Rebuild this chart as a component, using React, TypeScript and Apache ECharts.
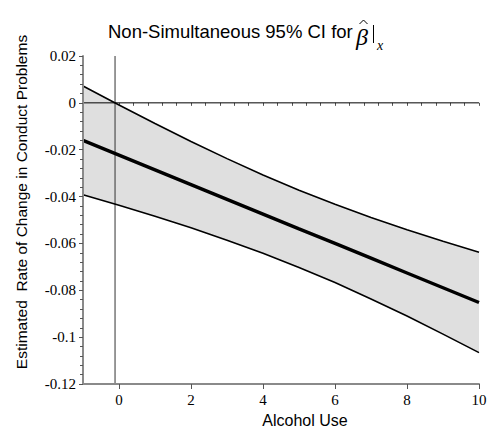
import React, { useEffect, useRef } from "react";
import * as echarts from "echarts";

// Alcohol Use values at which the curves were read
const X_VALUES = [-1, 0, 1, 2, 3, 4, 5, 6, 7, 8, 9, 10];
// Estimated simple slope (thick line)
const ESTIMATE = [-0.016, -0.0223, -0.0286, -0.0349, -0.0412, -0.0475, -0.0538, -0.06, -0.0663, -0.0726, -0.0789, -0.0852];
// Upper 95% bound
const UPPER = [0.0072, -0.0009, -0.0088, -0.0165, -0.0238, -0.0308, -0.0373, -0.0433, -0.0489, -0.0542, -0.0591, -0.0638];
// Lower 95% bound
const LOWER = [-0.0392, -0.0437, -0.0484, -0.0533, -0.0586, -0.0642, -0.0703, -0.0767, -0.0837, -0.091, -0.0987, -0.1066];

// Region-of-significance boundary (vertical line) and reference line
const BOUNDARY_X = -0.11;
const ZERO_Y = 0;

const X_MIN = -1;
const X_MAX = 10;
const Y_MIN = -0.12;
const Y_MAX = 0.02;
const Y_STEP = 0.02;
const X_LABEL_TICKS = [0, 2, 4, 6, 8, 10];
const X_MINOR_TICKS = Array.from({ length: 28 }, (_, i) => Math.round((-0.8 + i * 0.4) * 10) / 10);

const TITLE = "Non-Simultaneous 95% CI for";
const Y_NAME = "Estimated  Rate of Change in Conduct Problems";
const X_NAME = "Alcohol Use";

const SERIF = "'Liberation Serif', 'Times New Roman', serif";
const SANS = "'Liberation Sans', Arial, sans-serif";

export default function App() {
  const ref = useRef<HTMLDivElement>(null);

  useEffect(() => {
    document.body.style.margin = "0";
    if (!ref.current) return;
    const chart = echarts.init(ref.current, null, { renderer: "svg" });

    const toPairs = (ys: number[]) => X_VALUES.map((x, i) => [x, ys[i]]);

    const option: any = {
      animation: false,
      backgroundColor: "#ffffff",
      grid: { left: 83, right: 11, top: 56, bottom: 49, containLabel: false },
      xAxis: [
        {
          type: "value",
          min: X_MIN,
          max: X_MAX,
          z: 6,
          axisLine: { show: true, onZero: false, lineStyle: { color: "#8a8a8a", width: 2 } },
          axisTick: { show: true, customValues: X_LABEL_TICKS, length: 5, lineStyle: { color: "#555", width: 1 } },
          axisLabel: {
            customValues: X_LABEL_TICKS,
            margin: 8,
            fontFamily: SERIF,
            fontSize: 15,
            color: "#000",
          },
          splitLine: { show: false },
        },
        {
          type: "value",
          min: X_MIN,
          max: X_MAX,
          position: "bottom",
          axisLine: { show: false },
          axisTick: { show: true, customValues: X_MINOR_TICKS, length: 3, lineStyle: { color: "#555", width: 1 } },
          axisLabel: { show: false },
          splitLine: { show: false },
        },
      ],
      yAxis: {
        type: "value",
        min: Y_MIN,
        max: Y_MAX,
        interval: Y_STEP,
        z: 6,
        axisLine: { show: true, onZero: false, lineStyle: { color: "#8a8a8a", width: 2 } },
        axisTick: { show: true, length: 4, lineStyle: { color: "#555", width: 1 } },
        minorTick: { show: true, splitNumber: 5, length: 3, lineStyle: { color: "#555", width: 1 } },
        axisLabel: {
          margin: 7,
          fontFamily: SERIF,
          fontSize: 15,
          color: "#000",
        },
        splitLine: { show: false },
      },
      graphic: [
        {
          type: "text",
          x: 108,
          y: 31,
          style: { text: TITLE, fontFamily: SANS, fontSize: 18.5, fill: "#000", align: "left", verticalAlign: "middle" },
        },
        {
          type: "text",
          x: 362,
          y: 37,
          style: { text: "β", fontFamily: SERIF, fontStyle: "italic", fontSize: 24, fill: "#000", align: "center", verticalAlign: "middle" },
        },
        {
          type: "polyline",
          shape: { points: [[359.5, 24], [363.5, 20], [367.5, 24]] },
          style: { stroke: "#000", lineWidth: 1, fill: "none" },
        },
        {
          type: "line",
          shape: { x1: 373.5, y1: 25, x2: 373.5, y2: 43 },
          style: { stroke: "#000", lineWidth: 1 },
        },
        {
          type: "text",
          x: 380,
          y: 45,
          style: { text: "x", fontFamily: SERIF, fontStyle: "italic", fontSize: 14, fill: "#000", align: "center", verticalAlign: "middle" },
        },
        {
          type: "text",
          x: 21,
          y: 202,
          rotation: Math.PI / 2,
          style: {
            text: Y_NAME,
            fontFamily: SANS,
            fontSize: 15.5,
            fill: "#000",
            align: "center",
            verticalAlign: "middle",
          },
        },
        {
          type: "text",
          x: 305,
          y: 420,
          style: {
            text: X_NAME,
            fontFamily: SANS,
            fontSize: 16,
            fill: "#000",
            align: "center",
            verticalAlign: "middle",
          },
        },
      ],
      series: [
        {
          type: "custom",
          data: [[X_MIN, ZERO_Y]],
          silent: true,
          z: 1,
          renderItem: (params: any, api: any) => {
            if (params.dataIndex !== 0) return null;
            const top = X_VALUES.map((x, i) => api.coord([x, UPPER[i]]));
            const bottom = X_VALUES.map((x, i) => api.coord([x, LOWER[i]])).reverse();
            return {
              type: "polygon",
              shape: { points: top.concat(bottom) },
              style: { fill: "#dfdfdf", stroke: "none" },
            };
          },
        },
        {
          type: "line",
          data: [[X_MIN, ZERO_Y], [X_MAX, ZERO_Y]],
          symbol: "none",
          lineStyle: { color: "#000", width: 1 },
          z: 3,
        },
        {
          type: "line",
          data: [[BOUNDARY_X, Y_MIN], [BOUNDARY_X, Y_MAX]],
          symbol: "none",
          lineStyle: { color: "#333", width: 1 },
          z: 3,
        },
        {
          type: "line",
          data: toPairs(UPPER),
          symbol: "none",
          lineStyle: { color: "#000", width: 1.6 },
          z: 4,
        },
        {
          type: "line",
          data: toPairs(LOWER),
          symbol: "none",
          lineStyle: { color: "#000", width: 1.6 },
          z: 4,
        },
        {
          type: "line",
          data: toPairs(ESTIMATE),
          symbol: "none",
          lineStyle: { color: "#000", width: 3.4 },
          z: 5,
        },
      ],
    };

    chart.setOption(option);
    return () => chart.dispose();
  }, []);

  return (
    <div
      ref={ref}
      style={{ width: 490, height: 433, position: "absolute", left: 0, top: 0 }}
    />
  );
}
